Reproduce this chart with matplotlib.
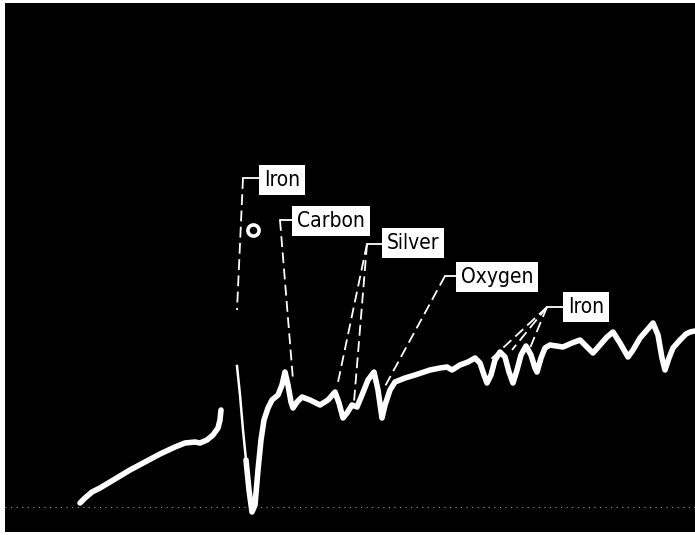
import matplotlib.pyplot as plt

# trace (x along sweep, y = screen depth, 0 at top)
trace_x = [80, 85, 92, 100, 115, 130, 145, 160, 175, 185, 195, 200, 207, 213, 218, 220, 221]
trace_y = [503, 498, 492, 488, 479, 470, 462, 454, 447, 443, 442, 443, 440, 435, 428, 420, 410]

spike_x = [237, 240, 243, 246, 248]
spike_y = [366, 395, 430, 460, 475]

main_x = [246, 249, 252, 255, 258, 261, 264, 268, 272, 278, 282, 285, 288, 291, 293,
          297, 302, 310, 320, 328, 335, 339, 343, 347, 352, 357, 362, 368, 374, 378,
          382, 385, 390, 395, 405, 415, 430, 440, 447, 452, 460, 468, 475, 480, 484,
          487, 491, 495, 500, 505, 509, 513, 517, 521, 526, 531, 535, 537, 541, 545,
          550, 563, 572, 580, 587, 593, 600, 607, 613, 620, 628, 633, 640, 647, 653,
          658, 662, 665, 669, 673, 680, 686, 690, 695]
main_y = [460, 490, 512, 505, 470, 440, 420, 408, 400, 395, 385, 372, 385, 402, 408,
          402, 397, 400, 405, 400, 392, 403, 418, 413, 405, 407, 395, 380, 372, 390,
          418, 405, 390, 382, 378, 375, 370, 368, 367, 370, 365, 362, 358, 363, 375,
          383, 375, 360, 352, 357, 372, 383, 370, 355, 346, 355, 368, 372, 358, 348,
          345, 347, 343, 340, 347, 353, 345, 337, 332, 343, 357, 350, 338, 330, 323,
          335, 358, 370, 358, 348, 340, 334, 332, 331]

labels = ["Iron", "Carbon", "Silver", "Oxygen", "Iron"]

fig = plt.figure(figsize=(6.95, 5.35), dpi=100, facecolor="white")
ax = fig.add_axes([5 / 695, 3 / 535, 690 / 695, 529 / 535])
ax.set_facecolor("black")
ax.set_xlim(5, 695)
ax.set_ylim(532, 3)
ax.set_xticks([])
ax.set_yticks([])
for s in ax.spines.values():
    s.set_visible(False)

# faint baseline of the graticule
ax.axhline(507, color="#9a9a9a", lw=0.8, ls=(0, (1, 4)))

ax.plot(trace_x, trace_y, color="white", lw=4, solid_capstyle="round", solid_joinstyle="round")
ax.plot(spike_x, spike_y, color="white", lw=1.8)
ax.plot(main_x, main_y, color="white", lw=4, solid_capstyle="round", solid_joinstyle="round")

# reference ring marker
ax.plot([253], [230], marker="o", ms=8, mfc="black", mec="white", mew=2.6)

# labels: (box centre, corner of leader, leader targets)
label_pos = [(282, 180), (331, 221), (413, 243), (497, 277), (586, 307)]
corners = [(243, 178), (280, 220), (367, 244), (445, 276), (547, 307)]
box_left = [261, 296, 383, 463, 565]
targets = [[(237, 310)], [(293, 380)], [(337, 387), (354, 402)],
           [(383, 390)], [(490, 360), (512, 350), (530, 348)]]

dash = dict(color="white", lw=1.3, ls=(0, (6, 3)))
for text, (cx, cy), (kx, ky), bl, tg in zip(labels, label_pos, corners, box_left, targets):
    ax.plot([kx, bl], [ky, ky], color="white", lw=1.3)
    for tx, ty in tg:
        ax.plot([kx, tx], [ky, ty], **dash)
    ax.text(cx, cy, text, ha="center", va="center", fontsize=15,
            family="DejaVu Sans", fontstretch="condensed", color="black",
            bbox=dict(boxstyle="square,pad=0.22", fc="white", ec="none"))

fig.savefig("out.png", dpi=100, facecolor="white")
plt.close(fig)
